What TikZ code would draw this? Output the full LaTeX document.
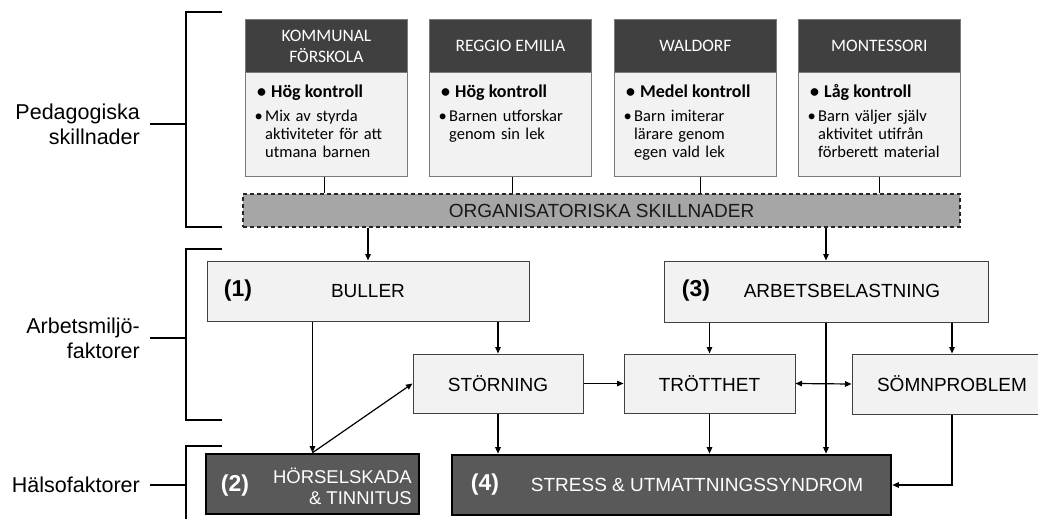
\documentclass[tikz,border=0pt]{standalone}
\usepackage{fontspec}
\setmainfont{Liberation Sans}
\newfontfamily\calfont{Carlito}
\usetikzlibrary{arrows.meta}
\definecolor{hdr}{HTML}{404040}
\definecolor{lightbg}{HTML}{F2F2F2}
\definecolor{bordergray}{HTML}{7A7A7A}
\definecolor{boxline}{HTML}{404040}
\definecolor{darkbox}{HTML}{595959}
\definecolor{orgfill}{HTML}{A6A6A6}
\newcommand\blt{\makebox[8pt][l]{\hspace{-2.5pt}•}}
\newcommand\topbox[5]{%
  \node[hdrbox] (#1h) at (#2,19) {#3};
  \node[bodybox] (#1) at (#2,72) {};
  \node[boldline] (#1k) at (#2+12,97) {\makebox[14pt][l]{•}#4};
  \node[regtext] (#1t) at (#2+12,121) {#5};
}
\begin{document}
\begin{tikzpicture}[x=1pt,y=-1pt,
  hdrbox/.style={rectangle, fill=hdr, draw=bordergray, line width=0.8pt, minimum width=162pt, minimum height=53pt, anchor=north west, inner sep=0pt, text=white, font=\calfont\fontsize{17.5}{21}\selectfont, align=center},
  bodybox/.style={rectangle, fill=lightbg, draw=bordergray, line width=1pt, minimum width=162pt, minimum height=104pt, anchor=north west, inner sep=0pt},
  boldline/.style={anchor=base west, inner sep=0pt, font=\calfont\bfseries\fontsize{18}{21}\selectfont},
  regtext/.style={anchor=base west, inner sep=0pt, text width=145pt, align=left, font=\calfont\fontsize{16.5}{18.2}\selectfont},
  lbox/.style={rectangle, fill=lightbg, draw=boxline, line width=1pt, inner sep=0pt, font=\fontsize{19}{22}\selectfont},
  dbox/.style={rectangle, fill=darkbox, draw=black, line width=2.6pt, inner sep=0pt, text=white, font=\fontsize{19}{22}\selectfont},
  numlab/.style={inner sep=0pt, font=\bfseries\fontsize{23}{26}\selectfont},
  txt/.style={inner sep=0pt, font=\fontsize{19}{22}\selectfont},
  sidelab/.style={inner sep=0pt, anchor=east, align=right, font=\fontsize{21.5}{25}\selectfont},
  arr/.style={line width=1.2pt, -{Triangle[length=6.5pt,width=5.5pt]}},
  conn/.style={line width=1.2pt},
  brk/.style={line width=1.5pt}
]
\useasboundingbox (0,0) rectangle (1038,519);

% side labels and brackets
\node[sidelab] (lp) at (140,124) {Pedagogiska\\skillnader};
\node[sidelab] (la) at (140,338) {Arbetsmiljö-\\faktorer};
\node[sidelab] (lh) at (140,485) {Hälsofaktorer};
\coordinate (p1) at (222,12); \coordinate (p2) at (186,12); \coordinate (p3) at (186,227); \coordinate (p4) at (222,227);
\coordinate (pm) at (186,124); \coordinate (pl) at (150,124);
\draw[brk] (p1) -- (p2) -- (p3) -- (p4);
\draw[brk] (pl) -- (pm);
\coordinate (a1) at (222,249); \coordinate (a2) at (186,249); \coordinate (a3) at (186,420); \coordinate (a4) at (222,420);
\coordinate (am) at (186,338); \coordinate (al) at (150,338);
\draw[brk] (a1) -- (a2) -- (a3) -- (a4);
\draw[brk] (al) -- (am);
\coordinate (h1) at (222,446); \coordinate (h2) at (186,446); \coordinate (h3) at (186,525);
\coordinate (hm) at (186,485); \coordinate (hl) at (150,485);
\draw[brk] (h1) -- (h2) -- (h3);
\draw[brk] (hl) -- (hm);

% top boxes
\topbox{b1}{245}{KOMMUNAL\\FÖRSKOLA}{Hög kontroll}{\blt Mix av styrda\\\hspace*{8pt}aktiviteter för att\\\hspace*{8pt}utmana barnen}
\topbox{b2}{429}{REGGIO EMILIA}{Hög kontroll}{\blt Barnen utforskar\\\hspace*{8pt}genom sin lek}
\topbox{b3}{614}{WALDORF}{Medel kontroll}{\blt Barn imiterar\\\hspace*{8pt}lärare genom\\\hspace*{8pt}egen vald lek}
\topbox{b4}{798}{MONTESSORI}{Låg kontroll}{\blt Barn väljer själv\\\hspace*{8pt}aktivitet utifrån\\\hspace*{8pt}förberett material}

% organisational bar
\node[rectangle, fill=orgfill, draw=black!85, dash pattern=on 4pt off 3pt, line width=1.1pt, minimum width=717pt, minimum height=33pt, inner sep=0pt, font=\fontsize{19}{22}\selectfont, text=black!90] (org) at (601.5,210.5) {ORGANISATORISKA SKILLNADER};

\draw[conn] ([xshift=-2pt]b1.south) -- ([xshift=-2pt]b1.south |- org.north);
\draw[conn] ([xshift=2pt]b2.south) -- ([xshift=2pt]b2.south |- org.north);
\draw[conn] ([xshift=5pt]b3.south) -- ([xshift=5pt]b3.south |- org.north);
\draw[conn] (b4.south) -- (b4.south |- org.north);

% work environment boxes
\node[lbox, minimum width=322pt, minimum height=60pt] (bul) at (368,291) {BULLER};
\node[numlab] (n1) at (238,291) {(1)};
\node[lbox, minimum width=324pt, minimum height=61pt] (arb) at (826,291.5) {};
\node[numlab] (n3) at (696,291) {(3)};
\node[txt] (arbt) at (842,291) {ARBETSBELASTNING};
\node[lbox, minimum width=170pt, minimum height=59pt] (stor) at (498,383.5) {STÖRNING};
\node[lbox, minimum width=171pt, minimum height=59pt] (tro) at (709.5,383.5) {TRÖTTHET};
\node[lbox, minimum width=200pt, minimum height=60pt] (som) at (952,384) {SÖMNPROBLEM};

% health boxes
\node[dbox, minimum width=213pt, minimum height=60pt] (hor) at (312.5,484) {};
\node[numlab, text=white] (n2) at (235,486) {(2)};
\node[txt, text=white, anchor=east, align=right, font=\fontsize{18.5}{21}\selectfont] (hort) at (412,486) {HÖRSELSKADA\\\& TINNITUS};
\node[dbox, minimum width=439pt, minimum height=60pt] (str) at (671.5,485) {};
\node[numlab, text=white] (n4) at (485,485) {(4)};
\node[txt, text=white] (strt) at (697,485) {STRESS \& UTMATTNINGSSYNDROM};

% arrows
\draw[arr] (bul.north |- org.south) -- (bul.north);
\draw[arr] (arb.north |- org.south) -- (arb.north);
\draw[arr] (stor.north |- bul.south) -- (stor.north);
\draw[arr] (hor.north |- bul.south) -- (hor.north);
\draw[arr] (hor.north) -- (stor.west);
\draw[arr] (tro.north |- arb.south) -- (tro.north);
\draw[arr] (som.north |- arb.south) -- (som.north);
\draw[arr] (stor.east) -- (tro.west);
\draw[line width=1.2pt, {Triangle[length=6.5pt,width=5.5pt]}-{Triangle[length=6.5pt,width=5.5pt]}] (tro.east) -- (som.west);
\draw[arr] (arb.south) -- (arb.south |- str.north);
\draw[arr] (stor.south) -- (stor.south |- str.north);
\draw[arr] (tro.south) -- (tro.south |- str.north);
\draw[arr] (som.south) |- (str.east);
\end{tikzpicture}
\end{document}
